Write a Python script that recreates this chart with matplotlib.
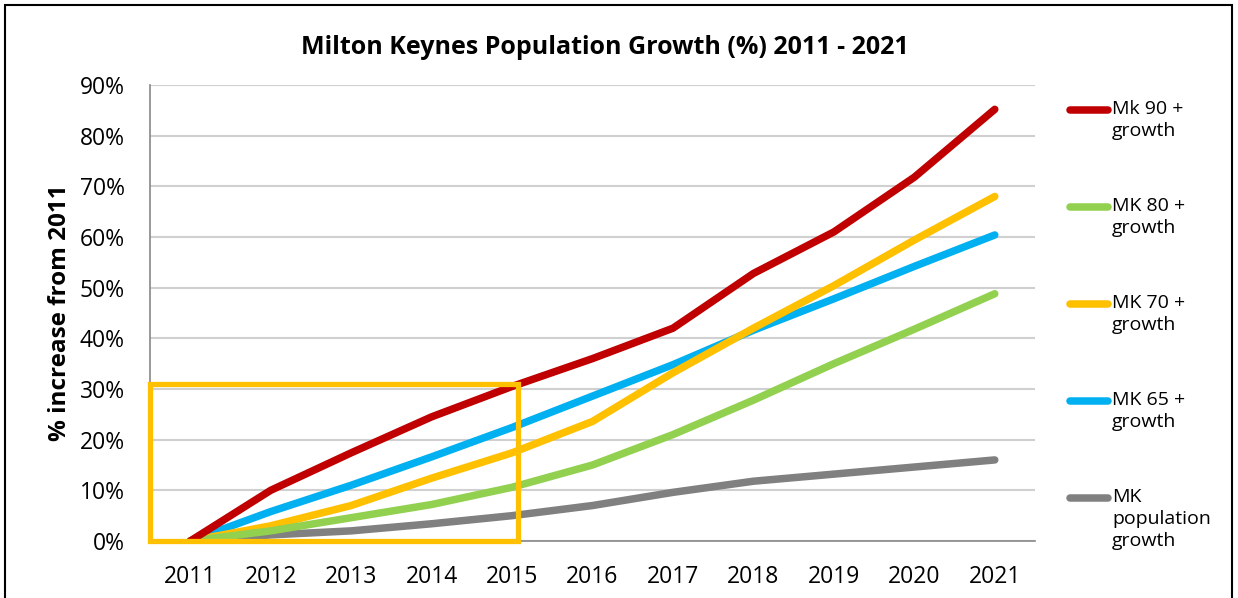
import matplotlib.pyplot as plt
from matplotlib.lines import Line2D
from matplotlib.patches import Rectangle
from matplotlib.ticker import PercentFormatter

years = [2011, 2012, 2013, 2014, 2015, 2016, 2017, 2018, 2019, 2020, 2021]
mk90 = [0, 10.0, 17.4, 24.5, 30.5, 36.0, 42.0, 52.8, 61.0, 71.8, 85.2]
mk80 = [0, 2.0, 4.6, 7.2, 10.6, 15.0, 21.0, 27.8, 35.0, 41.8, 48.8]
mk70 = [0, 3.0, 7.0, 12.4, 17.4, 23.6, 33.2, 42.0, 50.4, 59.4, 68.0]
mk65 = [0, 5.8, 11.0, 16.6, 22.4, 28.6, 34.8, 41.6, 47.8, 54.2, 60.4]
mk_pop = [0, 1.2, 2.0, 3.4, 5.0, 7.0, 9.6, 11.8, 13.2, 14.6, 16.0]

labels = ["Mk 90 +\ngrowth", "MK 80 +\ngrowth", "MK 70 +\ngrowth",
          "MK 65 +\ngrowth", "MK\npopulation\ngrowth"]
colors = ["#C00000", "#92D050", "#FFC000", "#00B0F0", "#808080"]
# highlighted period (years, percent)
box_x = [2010.5, 2015.08]
box_y = [0, 31]

plt.rcParams['font.family'] = ['Open Sans', 'DejaVu Sans']

fig = plt.figure(figsize=(12.38, 5.98), dpi=100)
ax = fig.add_axes([150 / 1238, 1 - 541 / 598, 885 / 1238, 456 / 598])

series = [mk90, mk80, mk70, mk65, mk_pop]
# draw order as in the reference: grey at back, red on top
for i in [4, 1, 2, 3, 0]:
    ax.plot(years, series[i], color=colors[i], lw=5.4, solid_capstyle='round',
            solid_joinstyle='round', zorder=3 + (4 - i) * 0.1)

ax.add_patch(Rectangle((box_x[0], box_y[0]), box_x[1] - box_x[0], box_y[1] - box_y[0],
                       fill=False, edgecolor="#FFC000", lw=3.8, zorder=5, clip_on=False))

ax.set_xlim(2010.5, 2021.5)
ax.set_ylim(0, 90)
ax.set_xticks(years)
ax.set_yticks(range(0, 91, 10))
ax.yaxis.set_major_formatter(PercentFormatter(decimals=0))
ax.tick_params(length=0, labelsize=16.5)
ax.tick_params(axis='x', pad=17)
ax.tick_params(axis='y', pad=18)
ax.grid(axis='y', color="#D0D0D0", lw=1.5)
ax.set_axisbelow(True)
for s in ['top', 'right']:
    ax.spines[s].set_visible(False)
for s in ['left', 'bottom']:
    ax.spines[s].set_color("#888888")
    ax.spines[s].set_linewidth(1.2)

ax.set_ylabel("% increase from 2011", fontsize=17.5, fontweight='bold', labelpad=6)
fig.text(605 / 1238, 1 - 47 / 598, "Milton Keynes Population Growth (%) 2011 - 2021",
         ha='center', va='center', fontsize=18, fontweight='bold')

# legend drawn by hand so the marker sits on the first text line
for i, lab in enumerate(labels):
    y = 1 - (110 + i * 97) / 598
    fig.add_artist(Line2D([1070 / 1238, 1108 / 1238], [y, y], color=colors[i], lw=5.4,
                          solid_capstyle='round'))
    fig.text(1112 / 1238, y + 10 / 598, lab, ha='left', va='top', fontsize=14,
             linespacing=1.3)

# outer chart border
fig.add_artist(Rectangle((5 / 1238, -0.05), 1227 / 1238, 1.05 - 5 / 598,
                         transform=fig.transFigure, fill=False, edgecolor='black', lw=1.5))

fig.savefig("out.png", dpi=100)
